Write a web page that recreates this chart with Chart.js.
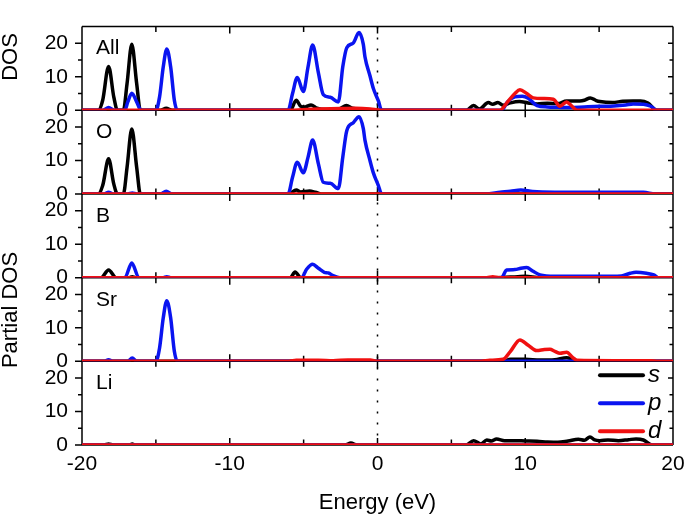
<!DOCTYPE html>
<html>
<head>
<meta charset="utf-8">
<script src="https://cdn.jsdelivr.net/npm/chart.js@4"></script>
<style>
  body { margin: 0; background: #fff; }
  canvas { display: block; }
</style>
</head>
<body>
<canvas id="dos" width="685" height="516"></canvas>
<script>
// panels, top to bottom
const panels = ['All', 'O', 'B', 'Sr', 'Li'];
const orbitals = ['s', 'p', 'd'];
const xTicks = [-20, -10, 0, 10, 20];
const yTicks = [0, 10, 20];

// [energy (eV), DOS]
const allS = [[-20,0],[-18.9,0],[-18.6,3],[-18.2,13.1],[-17.85,4],[-17.6,0],[-17.2,0],[-16.95,8],[-16.63,19.7],[-16.3,8],[-16.05,0],
  [-14.7,0],[-14.3,0.6],[-13.9,0],[-5.9,0],[-5.5,3],[-5.2,1.2],[-4.9,1.0],[-4.5,1.6],[-4.1,0.6],[-3.5,0.2],[-2.6,0.4],[-2.1,1.4],
  [-1.7,0.6],[-1,0.3],[0.2,0],[6.0,0],[6.5,1.4],[6.9,0.4],[7.5,2.3],[7.8,1.8],[8.15,2.3],[8.5,1.5],[9.0,2.2],[9.6,2.6],[10.2,2.2],
  [10.8,1.9],[11.5,2.1],[12.2,2.0],[12.8,2.8],[13.7,2.8],[14.0,3.0],[14.4,3.7],[14.8,2.9],[15.05,2.6],[15.9,2.3],[16.6,2.7],
  [17.3,2.8],[17.8,2.8],[18.3,2.2],[18.9,0],[20,0]];
const allP = [[-20,0],[-18.6,0],[-18.2,0.8],[-17.8,0],[-17.1,0],[-16.9,2.5],[-16.63,5.1],[-16.3,2.5],[-16.0,0],[-15.0,0],[-14.75,4],
  [-14.5,13],[-14.26,18.3],[-14.0,13],[-13.75,3],[-13.55,0],[-6.05,0],[-5.75,5],[-5.43,9.8],[-5.02,5.6],[-4.7,13],[-4.39,19.5],
  [-4.0,11.2],[-3.67,4.7],[-3.2,3.9],[-2.65,2.5],[-2.35,13],[-2.08,18.7],[-1.64,20.1],[-1.25,23.2],[-0.96,19.7],[-0.85,16],
  [-0.51,10.3],[-0.28,6.5],[0.06,2.8],[0.28,0],[8.4,0],[8.8,2.5],[9.3,4.0],[9.8,4.2],[10.2,3.6],[10.8,1.4],[11.5,1.0],[12.2,0.9],
  [13,0.8],[14,1.0],[15.1,1.2],[16,1.3],[16.8,1.6],[17.3,1.9],[18,1.8],[18.5,1.2],[18.9,0],[20,0]];
const allD = [[-20,0],[-6,0],[-4.5,0.3],[-2.5,0.5],[-1.5,0.6],[-0.5,0.4],[0.2,0],[8.29,0],[8.8,2.5],[9.3,5],[9.64,6.1],[10.1,5],
  [10.54,3.7],[11.22,3.5],[11.9,3.3],[12.35,1.2],[12.8,2.5],[13.1,1.5],[13.5,0],[20,0]];

const oS = [[-20,0],[-18.9,0],[-18.6,2.5],[-18.2,10.5],[-17.85,3],[-17.6,0],[-17.2,0],[-16.95,8],[-16.63,19.4],[-16.3,8],[-16.05,0],
  [-14.6,0],[-14.3,0.5],[-14.0,0],[-6,0],[-5.5,1.2],[-5.2,0.6],[-4.6,0.9],[-4.2,0.5],[-3.8,0],[20,0]];
const oP = [[-20,0],[-18.5,0],[-18.2,0.5],[-17.9,0],[-16.9,0],[-16.6,0.3],[-16.3,0],[-14.7,0],[-14.3,0.8],[-13.9,0],[-6.05,0],
  [-5.75,5],[-5.43,9.5],[-5.02,6.3],[-4.7,11],[-4.39,16.1],[-4.0,9],[-3.67,3.5],[-3.2,3.2],[-2.65,1.6],[-2.35,11],[-2.08,18.9],
  [-1.64,21.3],[-1.25,23.1],[-0.96,19.5],[-0.85,16.1],[-0.51,10],[-0.28,6.3],[0.06,2.5],[0.28,0],[7.3,0],[8.3,0.5],[9.0,0.8],
  [9.7,1.2],[10.5,0.7],[12,0.5],[14,0.5],[16,0.5],[18,0.5],[18.8,0],[20,0]];
const oD = [[-20,0],[20,0]];

const bS = [[-20,0],[-18.7,0],[-18.2,2.3],[-17.7,0],[-16.8,0],[-16.6,0.3],[-16.4,0],[-5.9,0],[-5.58,1.7],[-5.2,0],[8,0],[9.5,0.3],
  [10,0.4],[11,0],[20,0]];
const bP = [[-20,0],[-17.1,0],[-16.63,4.4],[-16.15,0],[-14.5,0],[-14.26,0.3],[-14.0,0],[-5.13,0],[-4.8,2.5],[-4.39,4.0],[-4.0,2.8],
  [-3.6,1.6],[-3.33,1.4],[-3.0,0.6],[-2.54,0],[8.4,0],[8.74,2.3],[9.3,2.4],[9.7,2.8],[10.1,3.0],[10.5,2.0],[11,0.8],[12,0.4],
  [13.5,0.4],[15,0.4],[16.5,0.5],[17.1,1.3],[17.5,1.6],[18.2,1.3],[18.7,0.8],[19,0],[20,0]];
const bD = [[-20,0],[7.4,0],[7.8,0.3],[8.2,0],[20,0]];

const srS = [[-20,0],[8.5,0],[9.0,0.6],[10,0.6],[11,0.4],[12,0.5],[12.8,1.1],[13.2,0.6],[13.6,0],[20,0]];
const srP = [[-20,0],[-18.5,0],[-18.2,0.5],[-17.9,0],[-16.9,0],[-16.6,1.0],[-16.3,0],[-15.0,0],[-14.75,4],[-14.5,13],[-14.26,18.1],
  [-14.0,13],[-13.75,3],[-13.55,0],[20,0]];
const srD = [[-20,0],[-6,0],[-5.5,0.3],[-4,0.3],[-3,0.2],[-2,0.4],[-0.5,0.4],[0,0],[7,0],[7.6,0.3],[8.5,0.6],[9.0,3],[9.64,6.4],
  [10.2,4.8],[10.77,3.2],[11.3,3.5],[11.67,3.6],[12.0,3.0],[12.35,2.4],[12.8,2.7],[13.2,1.2],[13.5,0.3],[16,0.2],[18.5,0.2],[19,0],[20,0]];

const liS = [[-20,0],[-18.5,0],[-18.2,0.3],[-17.9,0],[-16.8,0],[-16.6,0.3],[-16.4,0],[-2.2,0],[-1.8,0.6],[-1.4,0],[6.0,0],[6.5,1.3],
  [7.0,0.3],[7.4,1.5],[7.7,1.2],[8.06,1.8],[8.6,1.3],[9.2,1.3],[10,1.2],[10.8,1.1],[11.5,0.9],[12.2,0.8],[12.9,1.2],[13.6,1.7],
  [14,1.4],[14.38,2.4],[14.7,1.5],[15.05,1.3],[15.6,1.5],[16.3,1.3],[17,1.6],[17.5,1.8],[18,1.5],[18.6,0],[20,0]];
const liP = [[-20,0],[20,0]];
const liD = [[-20,0],[20,0]];

const panelData = [[allS, allP, allD], [oS, oP, oD], [bS, bP, bD], [srS, srP, srD], [liS, liP, liD]];
const colors = ['#000000', '#0a14f0', '#f01010'];

const FONT = 'Liberation Sans, Arial, sans-serif';

const datasets = [];
panelData.forEach((group, i) => {
  group.forEach((pts, j) => {
    datasets.push({
      label: panels[i] + ' ' + orbitals[j],
      data: pts.map(([x, y]) => ({ x, y })),
      yAxisID: 'y' + i,
      borderColor: colors[j],
      borderWidth: 3.5,
      borderJoinStyle: 'round',
      pointRadius: 0,
      cubicInterpolationMode: 'monotone',
      order: 2 - j
    });
  });
});

const scales = {
  x: {
    type: 'linear', position: 'bottom', min: -20, max: 20,
    afterBuildTicks: s => { s.ticks = xTicks.map(v => ({ value: v })); },
    ticks: { font: { family: FONT, size: 21 }, color: '#000', padding: 7, maxRotation: 0 },
    grid: { display: false, drawTicks: false },
    border: { display: false },
    title: { display: true, text: 'Energy (eV)', font: { family: FONT, size: 22 }, color: '#000', padding: { top: 0, bottom: 0 } },
    afterFit: s => { s.height = 71; s.paddingLeft = 0; s.paddingRight = 0; }
  }
};
// stacked axes are laid out bottom-up, so add them from the last panel
panels.map((p, i) => i).reverse().forEach(i => {
  scales['y' + i] = {
    type: 'linear', position: 'left', stack: 'dos', stackWeight: 1, min: 0, max: 25,
    afterBuildTicks: s => { s.ticks = yTicks.map(v => ({ value: v })); },
    ticks: { font: { family: FONT, size: 21 }, color: '#000', padding: 14, autoSkip: false },
    grid: { display: false, drawTicks: false },
    border: { display: false },
    afterFit: s => { s.width = 82; }
  };
});

function yAxes(chart) {
  return panels.map((p, i) => chart.scales['y' + i]);
}

// frame, separators and tick marks, under the curves
const framePlugin = {
  id: 'frame',
  beforeDatasetsDraw(chart) {
    const { ctx, chartArea: a } = chart;
    const x = chart.scales.x;
    ctx.save();
    ctx.strokeStyle = '#000';
    ctx.lineWidth = 1.5;
    ctx.beginPath();
    ctx.moveTo(a.left, a.top); ctx.lineTo(a.left, a.bottom);
    ctx.moveTo(a.right, a.top); ctx.lineTo(a.right, a.bottom);
    ctx.moveTo(a.left, a.top); ctx.lineTo(a.right, a.top);
    yAxes(chart).forEach(s => {
      const y0 = s.getPixelForValue(0);
      ctx.moveTo(a.left, y0); ctx.lineTo(a.right, y0);
      for (let v = 0; v <= 20; v += 5) {
        const py = s.getPixelForValue(v);
        const major = v % 10 === 0;
        ctx.moveTo(a.left, py); ctx.lineTo(a.left - (major ? 7 : 4), py);
        if (v > 0) { ctx.moveTo(a.right, py); ctx.lineTo(a.right - (major ? 5 : 3.5), py); }
      }
      for (let e = -15; e <= 15; e += 5) {
        const px = x.getPixelForValue(e);
        const len = e % 10 === 0 ? 7 : 5.5;
        ctx.moveTo(px, s.bottom); ctx.lineTo(px, s.bottom - len);
        ctx.moveTo(px, s.top); ctx.lineTo(px, s.top + len);
      }
    });
    ctx.stroke();

    // Fermi level
    const xf = x.getPixelForValue(0);
    ctx.setLineDash([2, 9]);
    ctx.lineWidth = 1.5;
    ctx.beginPath();
    ctx.moveTo(xf, a.top); ctx.lineTo(xf, a.bottom);
    ctx.stroke();
    ctx.restore();
  },
  afterDraw(chart) {
    const { ctx } = chart;
    const x = chart.scales.x;
    const axes = yAxes(chart);
    ctx.save();
    ctx.fillStyle = '#000';
    ctx.textBaseline = 'middle';
    ctx.font = '21px ' + FONT;
    axes.forEach((s, i) => {
      ctx.textAlign = 'left';
      ctx.fillText(panels[i], x.getPixelForValue(-19.05), s.getPixelForValue(18.4));
    });

    // axis titles
    ctx.font = '22px ' + FONT;
    ctx.textAlign = 'center';
    [['DOS', 57], ['Partial DOS', 310]].forEach(([t, y]) => {
      ctx.save();
      ctx.translate(11, y);
      ctx.rotate(-Math.PI / 2);
      ctx.fillText(t, 0, 0);
      ctx.restore();
    });

    // legend inside the Li panel
    const li = axes[axes.length - 1];
    const right = chart.chartArea.right;
    ctx.font = 'italic 24px ' + FONT;
    ctx.textAlign = 'left';
    orbitals.forEach((o, j) => {
      const y = li.top + 14 + j * 28;
      ctx.strokeStyle = colors[j];
      ctx.lineWidth = 4;
      ctx.lineCap = 'round';
      ctx.beginPath();
      ctx.moveTo(right - 73, y); ctx.lineTo(right - 30, y);
      ctx.stroke();
      ctx.fillText(o, right - 25, y);
    });
    ctx.restore();
  }
};

new Chart(document.getElementById('dos'), {
  type: 'line',
  data: { datasets },
  options: {
    responsive: false,
    animation: false,
    devicePixelRatio: 1,
    layout: { padding: { top: 2, right: 12, left: 0, bottom: 0 } },
    plugins: { legend: { display: false }, tooltip: { enabled: false } },
    scales
  },
  plugins: [framePlugin]
});
</script>
</body>
</html>
